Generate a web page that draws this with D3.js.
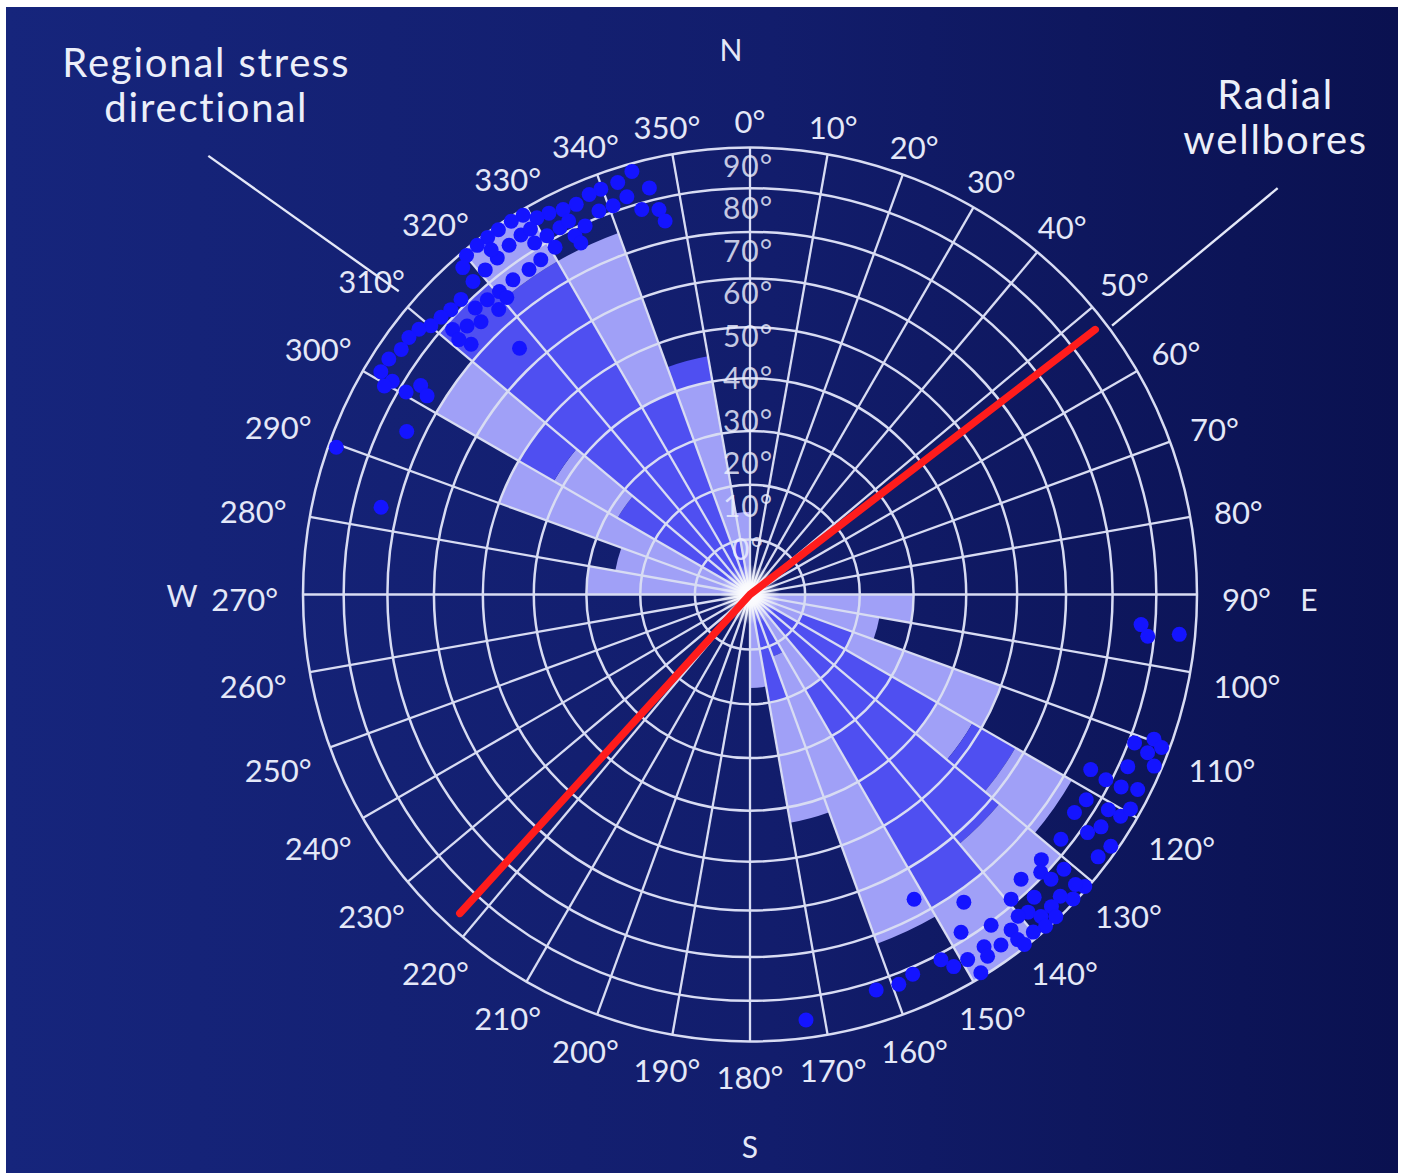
<!DOCTYPE html>
<html>
<head>
<meta charset="utf-8">
<script src="https://cdnjs.cloudflare.com/ajax/libs/d3/7.8.5/d3.min.js"></script>
<style>
  html, body { margin: 0; padding: 0; background: #ffffff; }
  svg { display: block; }
  text { font-family: "Lato", "Noto Sans", "DejaVu Sans", sans-serif; }
</style>
</head>
<body>
<svg id="chart" width="1406" height="1173"></svg>
<script>
// ---- data -------------------------------------------------------------
// azimuth tick labels (degrees clockwise from north)
const azimuthTicks = d3.range(0, 360, 10);
// dip rings (degrees), plotted on an equal-area net
const dipTicks = [0, 10, 20, 30, 40, 50, 60, 70, 80, 90];

// pole density bands: [azimuth bin start, dip from, dip to, level]
// level 1 = low density, level 2 = high density
const densityBands = [
  [270, 0, 30, 1],
  [280, 0, 25, 1],
  [290, 0, 50, 1],
  [300, 0, 28, 2], [300, 28, 42, 1], [300, 42, 50, 2], [300, 50, 70, 1],
  [310, 0, 80, 2],
  [320, 0, 75, 2], [320, 75, 90, 1],
  [330, 0, 40, 2], [330, 40, 75, 1],
  [340, 0, 10, 2], [340, 10, 40, 1], [340, 40, 45, 2],
  [350, 0, 15, 1],
  [90, 0, 30, 1],
  [100, 0, 24, 1],
  [110, 0, 10, 1], [110, 10, 20, 2], [110, 20, 50, 1],
  [120, 0, 40, 2], [120, 40, 48, 1], [120, 48, 58, 2], [120, 58, 72, 1],
  [130, 0, 62, 2], [130, 62, 80, 1],
  [140, 0, 20, 1], [140, 20, 70, 2], [140, 70, 90, 1],
  [150, 0, 12, 2], [150, 12, 72, 1],
  [160, 0, 20, 2], [160, 20, 43, 1],
  [170, 0, 17, 1]
];

// fracture poles [azimuth, dip], north-west set
const polesNW = [
  [344.4, 88], [342.2, 86.4], [339.8, 86.2], [338.1, 86], [336, 85], [334.1, 85.2],
  [332.2, 86], [330.5, 86.4], [329.1, 88.7], [327.4, 89], [325.4, 89], [323.7, 89],
  [322, 89], [320.1, 88.7], [318.7, 87], [318.5, 82.8], [320.8, 83], [323.1, 83.5],
  [325.4, 84.3], [327.5, 84.8], [328.5, 81.4], [330.5, 81.4], [332.6, 81.6], [334, 78.3],
  [335.9, 79.4], [338.5, 81.4], [340.6, 81.4], [342.8, 82.4], [346.1, 83], [346.7, 77.5],
  [347.2, 74.6], [344.3, 78.5], [328, 77.3], [325.8, 76.9], [323, 77.1], [320.4, 76.9],
  [318.3, 77.3], [316.2, 77.8], [315.6, 81.6], [313.6, 81.6], [311.9, 82.1], [310.1, 82.6],
  [311.7, 78.1], [313.5, 76.2], [315.4, 74.6], [318.6, 73.9], [320.7, 74.8], [311.9, 72.7],
  [311.2, 75.5], [308.7, 84.3], [307, 85], [305.1, 84.8], [303.1, 86], [301.1, 86],
  [300.8, 82.4], [300.5, 78.3], [302.4, 76.2], [301.6, 73.7], [299.7, 83.5], [316.9, 64.5],
  [289.6, 88], [283.3, 73.7], [295.4, 73.9], [330.7, 78.1], [334.1, 82.1], [334.3, 76.2],
  [329, 84.8], [323.1, 86]
];

// fracture poles [azimuth, dip], south-east set
const polesSE = [
  [109.7, 85.5], [111.7, 85.2], [111.1, 81.4], [114.5, 82.1], [113, 88], [117.4, 82.8],
  [116.7, 86.7], [117.2, 74.6], [121, 82.8], [120.9, 86.2], [123.9, 76.4], [125.2, 81.6],
  [123.5, 83.5], [124.9, 88.2], [127, 87.2], [128.2, 77.5], [132.3, 77.1], [133.7, 79],
  [131.2, 82.6], [131.1, 89.3], [133.3, 89.2], [134.2, 86.4], [136, 86.7], [136.8, 82.1],
  [138.8, 83.8], [137.9, 86.7], [136.5, 89.3], [138.3, 89.3], [140, 88.4], [140.2, 83],
  [139.4, 78.8], [142.1, 84.5], [142.2, 87.4], [141.9, 89.4], [146.4, 84], [146.7, 86.4],
  [148.6, 89], [148, 78.1], [145.2, 72.7], [151.7, 66.4], [149.2, 84.5], [151.3, 84.3],
  [94.4, 76.7], [96, 78.5], [95.3, 86], [110.4, 88], [159.1, 82.6], [162.3, 82.1],
  [156.8, 81.6], [172.5, 85.5], [152.4, 81.4], [121.4, 77.1], [133.4, 81.9], [136.4, 76.9],
  [131.7, 87.2], [117.5, 78.8], [119.4, 87.4], [144.4, 86], [143.9, 80.7]
];

// radial wellbores: azimuth and dip of the two laterals
const wellboreAzimuths = [222.3, 52.5];
const wellboreDips = [86, 87];

// regional stress direction (azimuth)
const stressAzimuth = 310;

// ---- layout -----------------------------------------------------------
const W = 1406, H = 1173;
const cx = 750, cy = 594.5, R = 447;

const svg = d3.select("#chart");
const defs = svg.append("defs");

const bg = defs.append("linearGradient").attr("id", "bg")
  .attr("x1", "0%").attr("x2", "100%").attr("y1", "0%").attr("y2", "0%");
bg.append("stop").attr("offset", "0%").attr("stop-color", "#16257c");
bg.append("stop").attr("offset", "55%").attr("stop-color", "#121d6c");
bg.append("stop").attr("offset", "100%").attr("stop-color", "#0a1150");

const glow = defs.append("radialGradient").attr("id", "glow");
glow.append("stop").attr("offset", "0%").attr("stop-color", "#ffffff").attr("stop-opacity", 1);
glow.append("stop").attr("offset", "35%").attr("stop-color", "#ffffff").attr("stop-opacity", 0.85);
glow.append("stop").attr("offset", "100%").attr("stop-color", "#ffffff").attr("stop-opacity", 0);

svg.append("rect").attr("x", 0).attr("y", 0).attr("width", W).attr("height", H).attr("fill", "#ffffff");
svg.append("rect").attr("x", 6).attr("y", 7).attr("width", 1392).attr("height", H - 7).attr("fill", "url(#bg)");

// scales: equal-area radius from dip, angle from azimuth
const rLin = d3.scaleLinear().domain([0, Math.SQRT1_2]).range([0, R]);
const rDip = d => rLin(Math.sin(d * Math.PI / 360));
const aScale = d3.scaleLinear().domain([0, 360]).range([0, 2 * Math.PI]);
const px = (az, r) => r * Math.sin(aScale(az));
const py = (az, r) => -r * Math.cos(aScale(az));

const levelColor = { 1: "#a0a0f7", 2: "#4f4ff1" };
const gridColor = "#d8dcf3";

const g = svg.append("g").attr("transform", `translate(${cx},${cy})`);

// density cells
const arc = d3.arc();
g.append("g").selectAll("path").data(densityBands).join("path")
  .attr("d", d => arc({
    innerRadius: rDip(d[1]), outerRadius: rDip(d[2]),
    startAngle: aScale(d[0]), endAngle: aScale(d[0] + 10)
  }))
  .attr("fill", d => levelColor[d[3]]);

// dip rings
g.append("g").selectAll("circle").data(dipTicks.filter(d => d > 0)).join("circle")
  .attr("r", d => rDip(d))
  .attr("fill", "none").attr("stroke", gridColor).attr("stroke-width", 2.5);

// azimuth spokes
g.append("g").selectAll("line").data(azimuthTicks).join("line")
  .attr("x1", 0).attr("y1", 0)
  .attr("x2", d => px(d, R)).attr("y2", d => py(d, R))
  .attr("stroke", gridColor).attr("stroke-width", 2.3);

// poles
const poles = polesNW.concat(polesSE);
g.append("g").selectAll("circle").data(poles).join("circle")
  .attr("cx", d => px(d[0], rDip(d[1])))
  .attr("cy", d => py(d[0], rDip(d[1])))
  .attr("r", 7.5)
  .attr("fill", "#1414ff");

// dip labels along the north axis
const dipLabelY = d3.scaleLinear().domain([0, 90]).range([-47, -430]);
g.append("g").selectAll("text").data(dipTicks).join("text")
  .attr("x", -2).attr("y", d => dipLabelY(d))
  .attr("text-anchor", "middle").attr("dominant-baseline", "central")
  .attr("font-size", 30).attr("letter-spacing", 1).attr("fill", "#eef0ff").attr("fill-opacity", 0.82)
  .text(d => `${d}°`);

// center glow
g.append("circle").attr("r", 30).attr("fill", "url(#glow)");

// wellbore trace
const wellLine = d3.lineRadial()
  .angle(d => aScale(d[0]))
  .radius(d => rDip(d[1]));
const wellPts = [[wellboreAzimuths[0], wellboreDips[0]], [0, 0], [wellboreAzimuths[1], wellboreDips[1]]];
g.append("path").attr("d", wellLine(wellPts))
  .attr("fill", "none").attr("stroke", "#ff1c1c").attr("stroke-width", 7.5)
  .attr("stroke-linejoin", "round").attr("stroke-linecap", "round");

// azimuth labels round the net
const azLabels = g.append("g").selectAll("text").data(azimuthTicks).join("text")
  .attr("text-anchor", "middle").attr("dominant-baseline", "central")
  .attr("font-size", 31).attr("fill", "#e4e8f8")
  .text(d => `${d}°`);
azLabels.each(function(d) {
  const w = this.getComputedTextLength();
  const a = aScale(d);
  const s = Math.sin(a);
  const r = 478 + (w / 2 - 6) * s * s;
  d3.select(this).attr("x", px(d, r)).attr("y", py(d, r) + 4);
});

// compass letters
const compass = [["N", 358, 546], ["E", 90.5, 559], ["S", 180, 551], ["W", 270, 568]];
g.append("g").selectAll("text").data(compass).join("text")
  .attr("x", d => px(d[1], d[2])).attr("y", d => py(d[1], d[2]))
  .attr("text-anchor", "middle").attr("dominant-baseline", "central")
  .attr("font-size", 30).attr("fill", "#e4e8f8")
  .text(d => d[0]);

// annotations with leader lines
const notes = [
  { lines: ["Regional stress", "directional"], from: [stressAzimuth + 0.8, 464], to: [stressAzimuth - 1, 697] },
  { lines: ["Radial", "wellbores"], from: [wellboreAzimuths[1] + 0.9, 451], to: [wellboreAzimuths[1] - 0.1, 666] }
];
notes.forEach(n => {
  const x1 = px(n.from[0], n.from[1]), y1 = py(n.from[0], n.from[1]);
  const x2 = px(n.to[0], n.to[1]), y2 = py(n.to[0], n.to[1]);
  g.append("line").attr("x1", x1).attr("y1", y1).attr("x2", x2).attr("y2", y2)
    .attr("stroke", "#e4e8f8").attr("stroke-width", 2.4);
  const t = g.append("text").attr("text-anchor", "middle")
    .attr("font-size", 40).attr("letter-spacing", 1.8).attr("fill", "#eceffa");
  n.lines.forEach((s, i) => {
    t.append("tspan").attr("x", x2 - 2).attr("y", y2 - 79 + i * 45).text(s);
  });
});
</script>
</body>
</html>
